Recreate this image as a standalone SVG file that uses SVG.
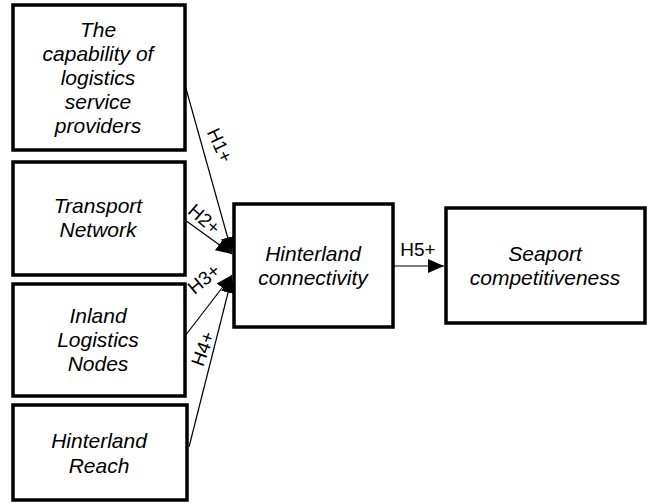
<svg xmlns="http://www.w3.org/2000/svg" width="647" height="503" viewBox="0 0 647 503">
<style>
.box{fill:#fff;stroke:#000;stroke-width:3.5}
.t{font-family:"Liberation Sans",Arial,sans-serif;font-style:italic;font-size:21px;text-anchor:middle;fill:#000}
.lbl{font-family:"Liberation Sans",Arial,sans-serif;font-size:19px;text-anchor:middle;fill:#000}
.c{stroke:#000;stroke-width:1.2;fill:none}
</style>
<defs>
<marker id="ah" viewBox="0 0 16 14" refX="16" refY="7" markerWidth="16" markerHeight="14" markerUnits="userSpaceOnUse" orient="auto">
<path d="M0,0 L16,7 L0,14 Z" fill="#000"/>
</marker>
</defs>
<rect width="647" height="503" fill="#fff"/>
<g id="n1">
<rect class="box" x="13" y="5" width="172" height="145"/>
<text class="t" x="98" y="37">The</text>
<text class="t" x="98" y="61">capability of</text>
<text class="t" x="98" y="85">logistics</text>
<text class="t" x="98" y="109">service</text>
<text class="t" x="98" y="133">providers</text>
</g>
<g id="n2">
<rect class="box" x="13" y="162" width="172" height="113"/>
<text class="t" x="98" y="213">Transport</text>
<text class="t" x="98" y="237">Network</text>
</g>
<g id="n3">
<rect class="box" x="13" y="284" width="172" height="112"/>
<text class="t" x="98" y="323">Inland</text>
<text class="t" x="98" y="347">Logistics</text>
<text class="t" x="98" y="371">Nodes</text>
</g>
<g id="n4">
<rect class="box" x="13" y="405" width="174" height="95"/>
<text class="t" x="99" y="448">Hinterland</text>
<text class="t" x="99" y="473">Reach</text>
</g>
<g id="hub">
<rect class="box" x="234" y="204" width="159" height="123"/>
<text class="t" x="313" y="261">Hinterland</text>
<text class="t" x="313" y="285">connectivity</text>
</g>
<g id="seaport">
<rect class="box" x="446" y="208" width="199" height="115"/>
<text class="t" x="545" y="261">Seaport</text>
<text class="t" x="545" y="285">competitiveness</text>
</g>
<g id="connectors">
<line class="c" x1="185" y1="85" x2="232" y2="253" marker-end="url(#ah)"/>
<line class="c" x1="185" y1="220" x2="232" y2="254" marker-end="url(#ah)"/>
<line class="c" x1="185" y1="336" x2="232" y2="275" marker-end="url(#ah)"/>
<line class="c" x1="189" y1="447" x2="232" y2="277" marker-end="url(#ah)"/>
<line class="c" x1="393" y1="266" x2="444" y2="266" marker-end="url(#ah)"/>
<text class="lbl" transform="translate(214,148) rotate(65)">H1+</text>
<text class="lbl" transform="translate(200,224) rotate(41)">H2+</text>
<text class="lbl" transform="translate(208,284) rotate(-40)">H3+</text>
<text class="lbl" transform="translate(209,351) rotate(-70)">H4+</text>
<text class="lbl" x="418" y="256">H5+</text>
</g>
</svg>
